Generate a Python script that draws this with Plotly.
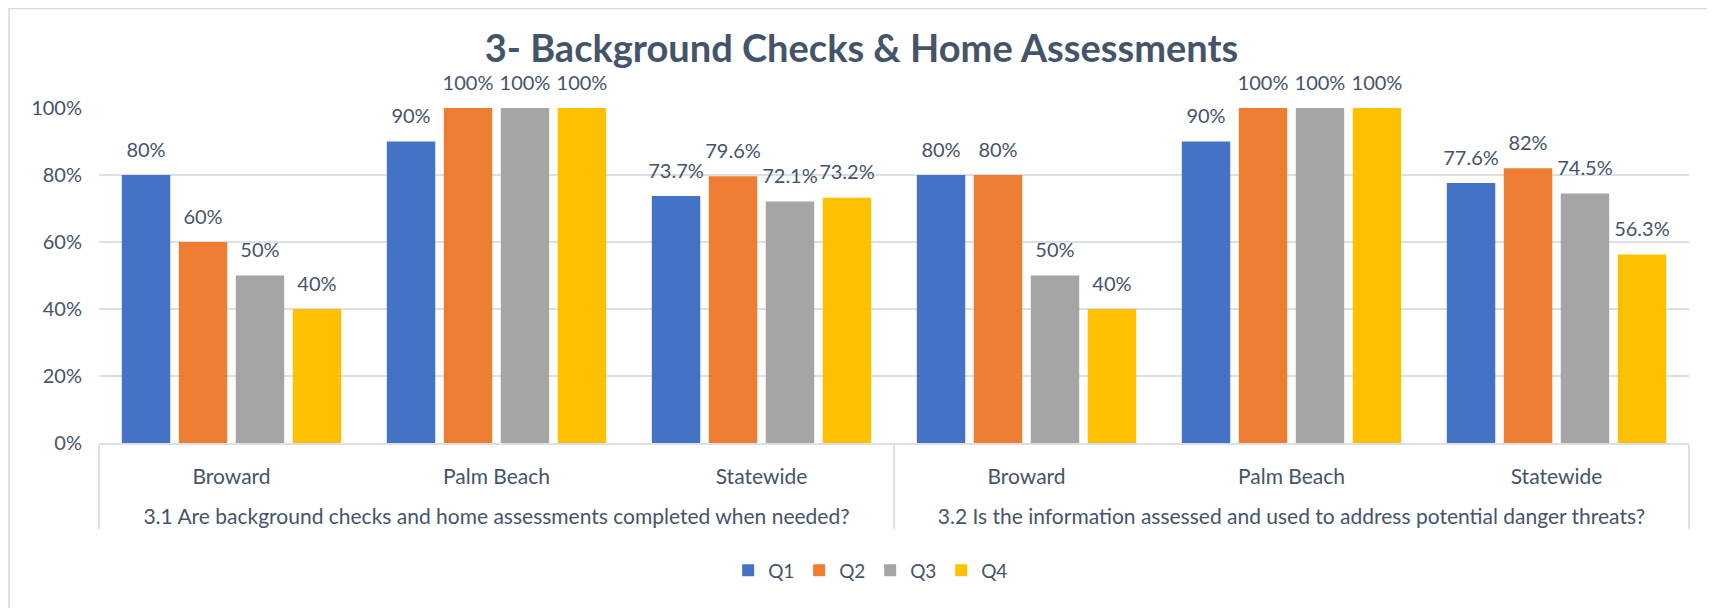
import plotly.graph_objects as go

# multi-category x axis: outer = question, inner = area
questions = ["<br>3.1 Are background checks and home assessments completed when needed?"] * 3 + \
            ["<br>3.2 Is the information assessed and used to address potential danger threats?"] * 3
areas = ["Broward", "Palm Beach", "Statewide"] * 2

q1 = [80, 90, 73.7, 80, 90, 77.6]
q2 = [60, 100, 79.6, 80, 100, 82]
q3 = [50, 100, 72.1, 50, 100, 74.5]
q4 = [40, 100, 73.2, 40, 100, 56.3]

series = {"Q1": q1, "Q2": q2, "Q3": q3, "Q4": q4}
colors = {"Q1": "#4472C4", "Q2": "#ED7D31", "Q3": "#A5A5A5", "Q4": "#FFC000"}

txt_color = "#44546A"
grid_color = "#DCE0E6"
font_family = "Lato, 'Open Sans', sans-serif"

fig = go.Figure()

for name, vals in series.items():
    fig.add_trace(go.Bar(
        x=[questions, areas], y=vals, name=name,
        marker=dict(color=colors[name], line=dict(width=0)),
    ))

# value labels, grouped the same way as the bars
for name, vals in series.items():
    fig.add_trace(go.Scatter(
        x=[questions, areas], y=vals,
        mode="markers+text",
        text=[f"{v:g}%" for v in vals],
        textposition="top center",
        textfont=dict(size=20, color=txt_color, family=font_family),
        marker=dict(size=20, opacity=0),
        showlegend=False, hoverinfo="skip", cliponaxis=False,
    ))

# page body adds an 8px margin, so the figure is 8px smaller than the window
fig.update_layout(
    width=1707, height=600,
    paper_bgcolor="white", plot_bgcolor="white",
    font=dict(family=font_family, color=txt_color, size=20),
    title=dict(text="<b>3- Background Checks & Home Assessments</b>",
               x=0.5, xref="container", y=1 - 41 / 600, yanchor="middle",
               font=dict(size=38, color=txt_color, family=font_family)),
    barmode="group", bargap=0.14, bargroupgap=0.15,
    scattermode="group", scattergap=0.14,
    margin=dict(l=91, r=26, t=100, b=165),
    legend=dict(orientation="h", x=0.485, xanchor="center", y=-0.38, yanchor="middle",
                font=dict(size=19, color=txt_color), entrywidth=26, traceorder="normal",
                itemwidth=30),
    shapes=[dict(type="rect", xref="paper", yref="paper",
                 x0=-0.0566, x1=1.03, y0=-0.6, y1=1.297,
                 line=dict(color="#D9D9D9", width=1.5), layer="below")],
)

fig.update_yaxes(range=[0, 100], dtick=20, ticksuffix="%", showgrid=True,
                 gridcolor=grid_color, gridwidth=1.5, zeroline=False,
                 tickfont=dict(size=20, color=txt_color), ticklabelstandoff=16)
fig.update_xaxes(showline=True, linecolor=grid_color, linewidth=1.5,
                 showdividers=True, dividercolor=grid_color, dividerwidth=1.5,
                 tickfont=dict(size=21, color=txt_color), ticks="",
                 ticklabelstandoff=14)

fig.write_html("out.html")
